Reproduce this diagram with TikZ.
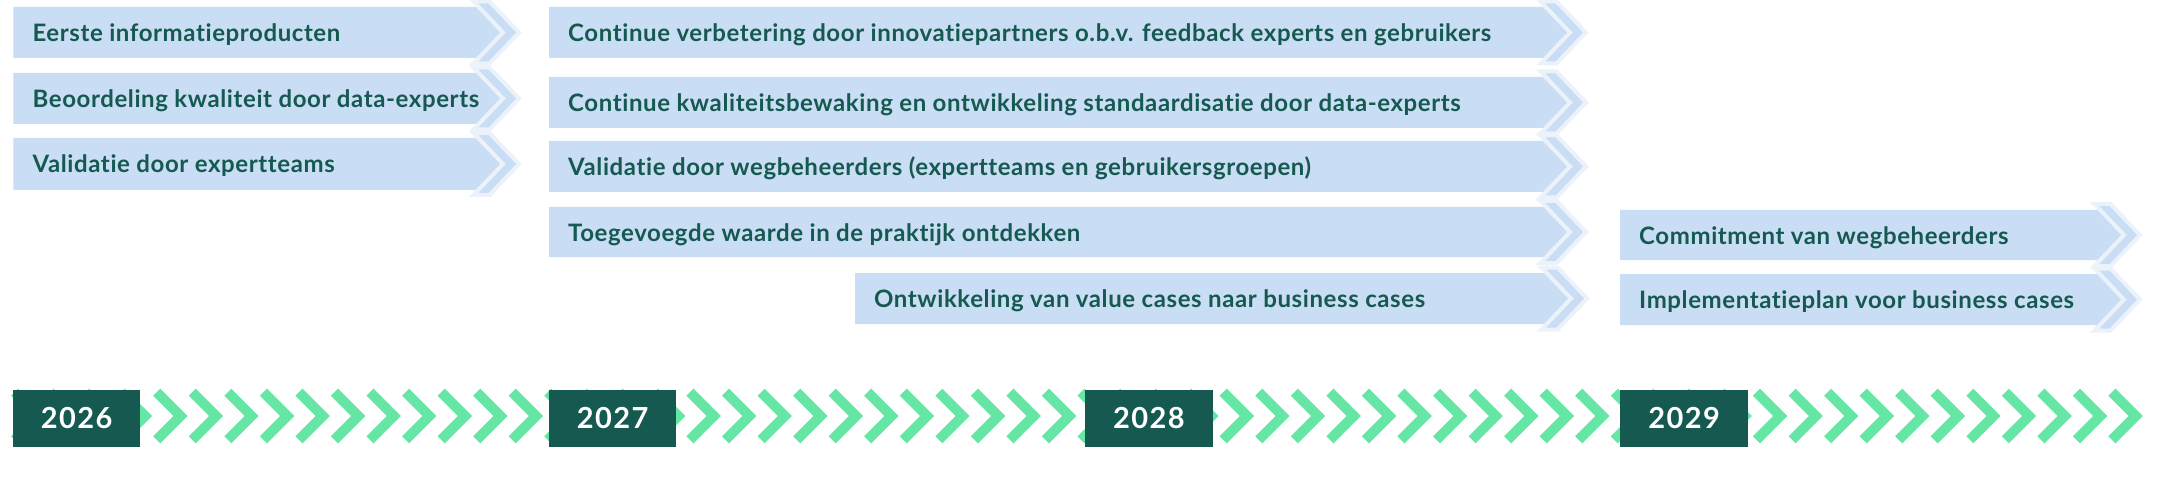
\documentclass[tikz,border=0pt]{standalone}
\usepackage{fontspec}
\newfontfamily\lato{Lato}[LetterSpace=2.5,Ligatures=NoCommon]
\newfontfamily\latoyr{Lato}[LetterSpace=5]
\definecolor{tealdk}{RGB}{21,89,80}
\definecolor{boxblue}{RGB}{201,221,244}
\definecolor{palec}{RGB}{236,242,250}
\definecolor{greenc}{RGB}{102,230,165}
\tikzset{
  boxtext/.style={font=\lato\bfseries\fontsize{24}{28}\selectfont, text=tealdk, inner sep=0pt, anchor=base west},
  yearbox/.style={fill=tealdk, text=white, minimum width=127.5pt, minimum height=57pt, inner sep=0pt, font=\latoyr\bfseries\fontsize{29}{32}\selectfont},
  chevline/.style={draw=greenc, line width=10pt, line cap=butt, line join=miter},
  bandchev/.style={fill=boxblue, draw=palec, line width=4pt, line join=miter}
}
\newcommand\roadbox[6]{%
  \pgfmathsetmacro\rbM{(#3+#4)/2}%
  \pgfmathsetmacro\rbTop{\rbM-31}%
  \pgfmathsetmacro\rbBot{\rbM+31}%
  \pgfmathsetmacro\rbN{#5-16}%
  \pgfmathsetmacro\rbTL{#5-16-29.5}%
  \pgfmathsetmacro\rbTR{#5-29.5}%
  \pgfmathsetmacro\rbE{\rbN-29.5*(\rbM-#3)/31}%
  \fill[boxblue] (#2,#3) -- (\rbE,#3) -- (\rbN,\rbM) -- (\rbE,#4) -- (#2,#4) -- cycle;
  \filldraw[bandchev] (\rbTL,\rbTop) -- (\rbTR,\rbTop) -- (#5,\rbM) -- (\rbTR,\rbBot) -- (\rbTL,\rbBot) -- (\rbN,\rbM) -- cycle;
  \node[boxtext] (#1) at (#2+19,\rbM+9) {#6};
}
\begin{document}
\begin{tikzpicture}[x=1pt,y=-1pt]
\useasboundingbox (0,0) rectangle (2160,489);
% column 1
\roadbox{a1}{13.4}{7}{58}{519}{Eerste informatieproducten}
\roadbox{a2}{13.4}{73}{124}{519}{Beoordeling kwaliteit door data-experts}
\roadbox{a3}{13.4}{138}{190}{519}{Validatie door expertteams}
% column 2
\roadbox{b1}{549}{7}{58}{1586}{Continue verbetering door innovatiepartners o.b.v. feedback experts en gebruikers}
\roadbox{b2}{549}{77}{128}{1586}{Continue kwaliteitsbewaking en ontwikkeling standaardisatie door data-experts}
\roadbox{b3}{549}{141}{192}{1586}{Validatie door wegbeheerders (expertteams en gebruikersgroepen)}
\roadbox{b4}{549}{207}{257}{1586}{Toegevoegde waarde in de praktijk ontdekken}
\roadbox{b5}{855}{273}{324}{1587}{Ontwikkeling van value cases naar business cases}
% column 3
\roadbox{c4}{1620}{210}{260}{2140}{Commitment van wegbeheerders}
\roadbox{c5}{1620}{274}{325}{2140}{Implementatieplan voor business cases}
% timeline chevrons
\foreach \k in {0,...,59}{
  \pgfmathsetmacro\cx{45.4+35.55*\k-7.07}
  \draw[chevline] (\cx-23.8,392.2) -- (\cx,416) -- (\cx-23.8,439.8);
}
% years
\node[yearbox] (y2026) at (76.65,418) {2026};
\node[yearbox] (y2027) at (612.65,418) {2027};
\node[yearbox] (y2028) at (1148.85,418) {2028};
\node[yearbox] (y2029) at (1684.15,418) {2029};
\end{tikzpicture}
\end{document}
